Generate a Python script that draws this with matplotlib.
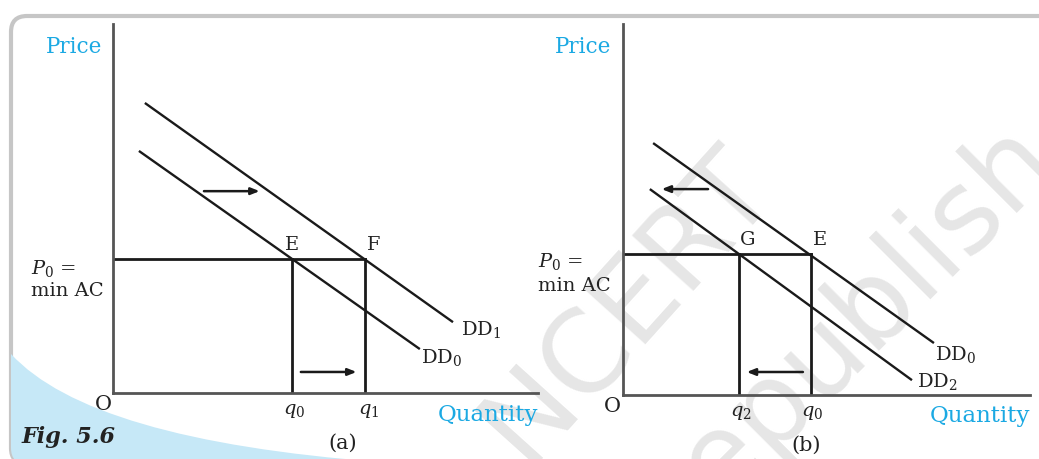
import matplotlib
matplotlib.use("Agg")
import matplotlib.pyplot as plt
from matplotlib.patches import FancyBboxPatch, PathPatch
from matplotlib.path import Path

plt.rcParams['font.family'] = ['DejaVu Serif']
plt.rcParams['mathtext.fontset'] = 'dejavuserif'

W, H = 1039, 459

# ---------------- data (abstract units, axes 0..10) ----------------
# Panel (a)
a_P0 = 3.63
a_q0 = 4.21
a_q1 = 5.93
a_DD0_x = [0.61, 7.22]
a_DD0_y = [6.56, 1.19]
a_DD1_x = [0.75, 8.00]
a_DD1_y = [7.86, 1.92]
a_arrow_top = [(2.14, 5.47), (3.45, 5.47)]
a_arrow_bot = [(4.42, 0.57), (5.73, 0.57)]

# Panel (b)
b_P0 = 3.80
b_q2 = 2.85
b_q0 = 4.62
b_DD0_x = [0.74, 7.64]
b_DD0_y = [6.79, 1.40]
b_DD2_x = [0.66, 7.10]
b_DD2_y = [5.55, 0.40]
b_arrow_top = [(2.09, 5.55), (0.95, 5.55)]
b_arrow_bot = [(4.42, 0.62), (3.04, 0.62)]

BLUE = '#1ba9e3'
AXC = '#555555'
LC = '#1a1a1a'

fig = plt.figure(figsize=(W / 100, H / 100), dpi=100)
fig.patch.set_facecolor('white')

# background axes in pixel coordinates (decoration only)
bg = fig.add_axes([0, 0, 1, 1])
bg.set_xlim(0, W)
bg.set_ylim(H, 0)
bg.axis('off')

card = FancyBboxPatch((11, 16), 1200, 448, boxstyle="round,pad=0,rounding_size=16",
                      ec='#c6c6c6', lw=3, fc='white', zorder=0)
bg.add_patch(card)
blue_path = Path([(11, 354), (90, 440), (380, 462), (11, 462), (11, 354)],
                 [Path.MOVETO, Path.CURVE3, Path.CURVE3, Path.LINETO, Path.CLOSEPOLY])
blue = PathPatch(blue_path, fc='#c6e8f7', ec='none', zorder=1)
bg.add_patch(blue)
blue.set_clip_path(card)

# watermark
bg.text(628, 305, "NCERT", rotation=48, fontsize=82, color='#e6e6e6',
        ha='center', va='center', family='DejaVu Sans', zorder=1,
        rotation_mode='anchor')
bg.text(850, 325, "republish", rotation=45, fontsize=82, color='#e6e6e6',
        ha='center', va='center', family='DejaVu Sans', zorder=1,
        rotation_mode='anchor')


def make_axes(left, bottom_y, right, top_y):
    ax = fig.add_axes([left / W, 1 - bottom_y / H, (right - left) / W, (bottom_y - top_y) / H])
    ax.set_xlim(0, 10)
    ax.set_ylim(0, 10)
    ax.patch.set_alpha(0)
    for s in ['top', 'right']:
        ax.spines[s].set_visible(False)
    for s in ['left', 'bottom']:
        ax.spines[s].set_color(AXC)
        ax.spines[s].set_linewidth(2.0)
    ax.set_xticks([])
    ax.set_yticks([])
    ax.spines['left'].set_zorder(3)
    return ax


def arrow(ax, seg):
    (x0, y0), (x1, y1) = seg
    ax.annotate("", xy=(x1, y1), xytext=(x0, y0),
                arrowprops=dict(arrowstyle="-|>,head_length=0.5,head_width=0.2",
                                lw=1.8, color=LC, shrinkA=0, shrinkB=0))


def label(ax, xy, text, dx, dy, size=13, ha='left', va='center', color='#222222'):
    ax.annotate(text, xy=xy, xytext=(dx, dy), textcoords='offset pixels',
                ha=ha, va=va, fontsize=size, color=color, annotation_clip=False)


# ---------------- panel (a) ----------------
axa = make_axes(113, 393, 538, 24)
axa.plot(a_DD1_x, a_DD1_y, color=LC, lw=1.7, solid_capstyle='butt')
axa.plot(a_DD0_x, a_DD0_y, color=LC, lw=1.7, solid_capstyle='butt')
axa.plot([0, a_q1], [a_P0, a_P0], color=LC, lw=2.0)
axa.plot([a_q0, a_q0], [0, a_P0], color=LC, lw=2.0)
axa.plot([a_q1, a_q1], [0, a_P0], color=LC, lw=2.0)
arrow(axa, a_arrow_top)
arrow(axa, a_arrow_bot)
label(axa, (a_q0, a_P0), "E", 0, 14, size=14, ha='center', va='center')
label(axa, (a_q1, a_P0), "F", 9, 14, size=14, ha='center', va='center')
label(axa, (a_DD1_x[1], a_DD1_y[1]), r"DD$_{\mathregular{1}}$", 8, -7, size=14)
label(axa, (a_DD0_x[1], a_DD0_y[1]), r"DD$_{\mathregular{0}}$", 1, -8, size=14)
label(axa, (a_q0, 0), r"$q_0$", 2, -18, size=14, ha='center')
label(axa, (a_q1, 0), r"$q_1$", 4, -18, size=14, ha='center')
label(axa, (0, 0), "O", -10, -12, size=15, ha='center')
label(axa, (0, 10), "Price", -11, -23, size=15.5, ha='right', color=BLUE)
label(axa, (10, 0), "Quantity", 0, -22, size=16.5, ha='right', color=BLUE)
label(axa, (0, a_P0), r"$P_0$ =", -82, -9, size=14)
label(axa, (0, a_P0), "min AC", -82, -32, size=14)
label(axa, (5.4, 0), "(a)", 0, -50, size=15, ha='center')

# ---------------- panel (b) ----------------
axb = make_axes(623, 395, 1030, 24)
axb.plot(b_DD0_x, b_DD0_y, color=LC, lw=1.7, solid_capstyle='butt')
axb.plot(b_DD2_x, b_DD2_y, color=LC, lw=1.7, solid_capstyle='butt')
axb.plot([0, b_q0], [b_P0, b_P0], color=LC, lw=2.0)
axb.plot([b_q2, b_q2], [0, b_P0], color=LC, lw=2.0)
axb.plot([b_q0, b_q0], [0, b_P0], color=LC, lw=2.0)
arrow(axb, b_arrow_top)
arrow(axb, b_arrow_bot)
label(axb, (b_q2, b_P0), "G", 9, 14, size=14, ha='center', va='center')
label(axb, (b_q0, b_P0), "E", 9, 14, size=14, ha='center', va='center')
label(axb, (b_DD0_x[1], b_DD0_y[1]), r"DD$_{\mathregular{0}}$", 1, -11, size=14)
label(axb, (b_DD2_x[1], b_DD2_y[1]), r"DD$_{\mathregular{2}}$", 5, -1, size=14)
label(axb, (b_q2, 0), r"$q_2$", 2, -18, size=14, ha='center')
label(axb, (b_q0, 0), r"$q_0$", 1, -18, size=14, ha='center')
label(axb, (0, 0), "O", -11, -12, size=15, ha='center')
label(axb, (0, 10), "Price", -12, -23, size=15.5, ha='right', color=BLUE)
label(axb, (10, 0), "Quantity", 0, -21, size=16.5, ha='right', color=BLUE)
label(axb, (0, b_P0), r"$P_0$ =", -85, -7, size=14)
label(axb, (0, b_P0), "min AC", -85, -32, size=14)
label(axb, (4.5, 0), "(b)", 0, -50, size=15, ha='center')

fig.text(22 / W, 1 - 437 / H, "Fig. 5.6", fontsize=16, fontweight='bold', style='italic',
         ha='left', va='center', color='#222222')

fig.savefig("out.png", dpi=100)
